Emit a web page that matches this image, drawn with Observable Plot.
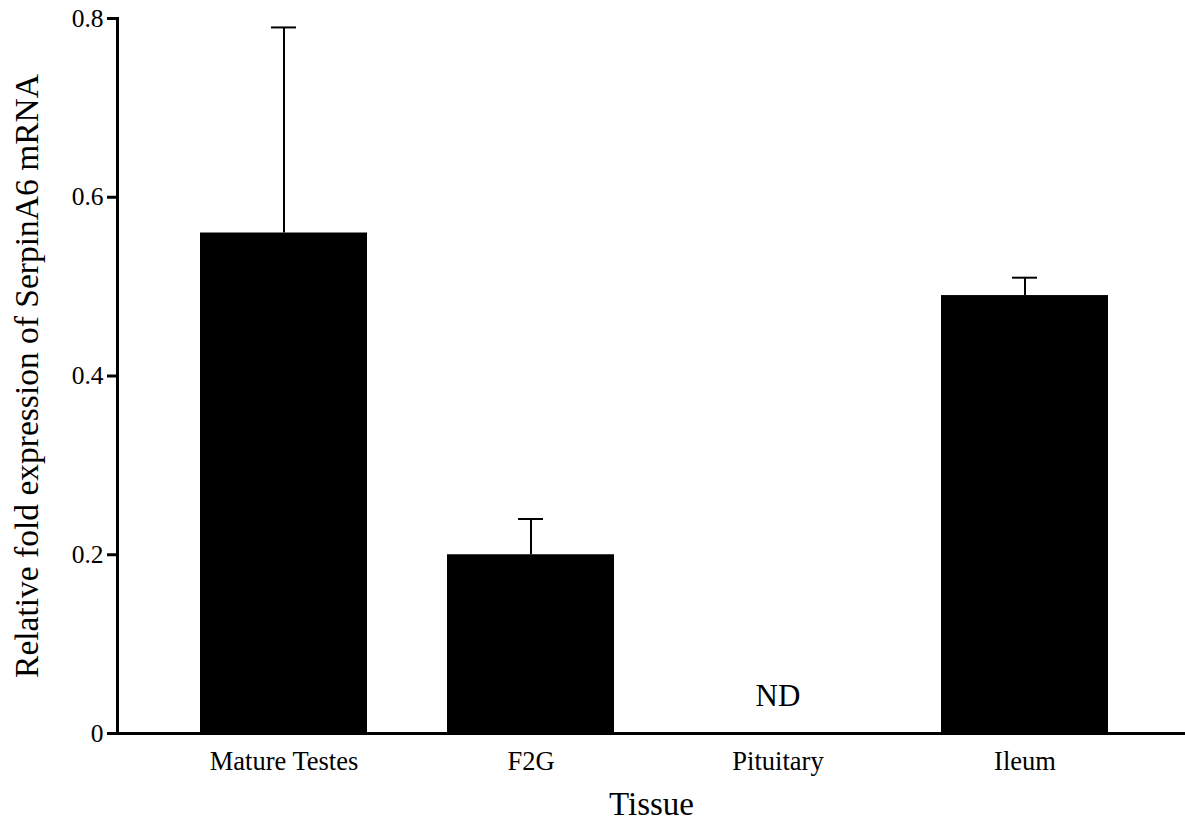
<!DOCTYPE html>
<html>
<head>
<meta charset="utf-8">
<script src="https://cdn.jsdelivr.net/npm/d3@7"></script>
<script src="https://cdn.jsdelivr.net/npm/@observablehq/plot@0.6"></script>
<style>
  html, body { margin: 0; padding: 0; background: #fff; }
  #chart svg { display: block; }
  #chart svg, #chart svg text, #chart svg g { font-family: "Liberation Serif", "Times New Roman", serif !important; }
  #chart svg g[aria-label="y-axis tick label"], #chart svg g[aria-label="y-axis tick label"] text { font-size: 25.5px !important; }
</style>
</head>
<body>
<div id="chart"></div>
<script>
const tissues = ["Mature Testes", "F2G", "Pituitary", "Ileum"];
const means = [0.56, 0.20, null, 0.49];
const errors = [0.23, 0.04, null, 0.02];
const notDetected = ["Pituitary"];
const yTicks = [0, 0.2, 0.4, 0.6, 0.8];
const yLabel = "Relative fold expression of SerpinA6 mRNA";
const xLabel = "Tissue";

const rows = tissues.map((t, i) => ({tissue: t, mean: means[i], err: errors[i]}))
  .filter(d => d.mean != null);
const ndRows = notDetected.map(t => ({tissue: t, label: "ND"}));

const font = "Liberation Serif";

const chart = Plot.plot({
  width: 1185,
  height: 822,
  marginTop: 18,
  marginBottom: 89,
  marginLeft: 117,
  marginRight: 0,
  style: {fontFamily: font, color: "#000", background: "#fff"},
  x: {type: "band", domain: tissues, range: [200, 1108], paddingInner: 0.324, paddingOuter: 0},
  y: {domain: [0, 0.8]},
  marks: [
    Plot.barY(rows, {x: "tissue", y: "mean", fill: "#000"}),
    Plot.ruleX(rows, {x: "tissue", y1: "mean", y2: d => d.mean + d.err, stroke: "#000", strokeWidth: 2}),
    Plot.tickY(rows, {x: "tissue", y: d => d.mean + d.err, stroke: "#000", strokeWidth: 2, insetLeft: 71, insetRight: 71}),
    Plot.text(ndRows, {x: "tissue", y: 0, text: "label", fontFamily: font, fontSize: 31, lineAnchor: "bottom", dy: -28, fill: "#000"}),
    Plot.axisY({ticks: yTicks, tickFormat: d3.format("~g"), tickSize: 10, tickPadding: 4, fontSize: 25.5, fontFamily: font, strokeWidth: 3, label: null}),
    Plot.axisX({tickSize: 0, tickPadding: 18, fontSize: 26.5, fontFamily: font, label: null}),
    Plot.frame({anchor: "left", strokeWidth: 3}),
    Plot.frame({anchor: "bottom", strokeWidth: 3}),
    Plot.text([yLabel], {frameAnchor: "left", rotate: -90, dx: -90, textAnchor: "middle", lineAnchor: "middle", fontSize: 33.5, fontFamily: font, fill: "#000"}),
    Plot.text([xLabel], {frameAnchor: "bottom", dy: 81, textAnchor: "middle", lineAnchor: "bottom", fontSize: 33, fontFamily: font, fill: "#000"})
  ]
});
document.getElementById("chart").appendChild(chart);
</script>
</body>
</html>
